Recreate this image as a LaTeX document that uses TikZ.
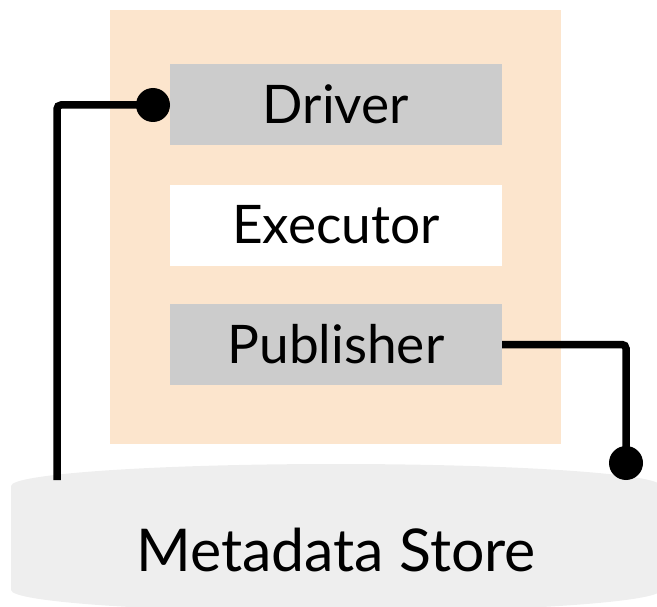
\documentclass[tikz,border=0pt]{standalone}
\usepackage{fontspec}
\setmainfont{Lato}
\begin{document}
\begin{tikzpicture}[x=1pt,y=-1pt,
  component/.style={draw=none,minimum width=332pt,minimum height=81pt,inner sep=0pt},
  label/.style={anchor=base,font=\fontsize{53.2pt}{62pt}\selectfont},
  wire/.style={line width=7.5pt,draw=black,rounded corners=4pt},
  dot/.style={circle,fill=black,minimum size=34pt,inner sep=0pt}]
  \definecolor{peach}{HTML}{FCE5CD}
  \definecolor{boxgray}{HTML}{CCCCCC}
  \definecolor{storegray}{HTML}{EEEEEE}
  \useasboundingbox (0,0) rectangle (657,607);
  \clip (0,0) rectangle (657,607);
  % metadata store cylinder
  \fill[storegray] (11,486) -- (11,590)
    arc[start angle=180,end angle=0,x radius=325,y radius=22] -- (661,486)
    arc[start angle=360,end angle=180,x radius=325,y radius=22] -- cycle;
  \node[anchor=base,font=\fontsize{59pt}{68pt}\selectfont] (store) at (336,571) {Metadata Store};
  % container
  \fill[peach] (110,10) rectangle (561,444);
  \node[component,fill=boxgray] (driver) at (336,105) {};
  \node[component,fill=white] (executor) at (336,225.5) {};
  \node[component,fill=boxgray] (publisher) at (336,344.5) {};
  \node[label] at (336,124) {Driver};
  \node[label] at (336,244) {Executor};
  \node[label] at (336,363) {Publisher};
  % connectors
  \node[dot] (ddot) at (153,105) {};
  \node[dot] (pdot) at (626,463) {};
  \coordinate (lend) at (57,480);
  \draw[wire] (ddot.center) -| (lend);
  \draw[wire] (publisher.east) -| (pdot.center);
\end{tikzpicture}
\end{document}
